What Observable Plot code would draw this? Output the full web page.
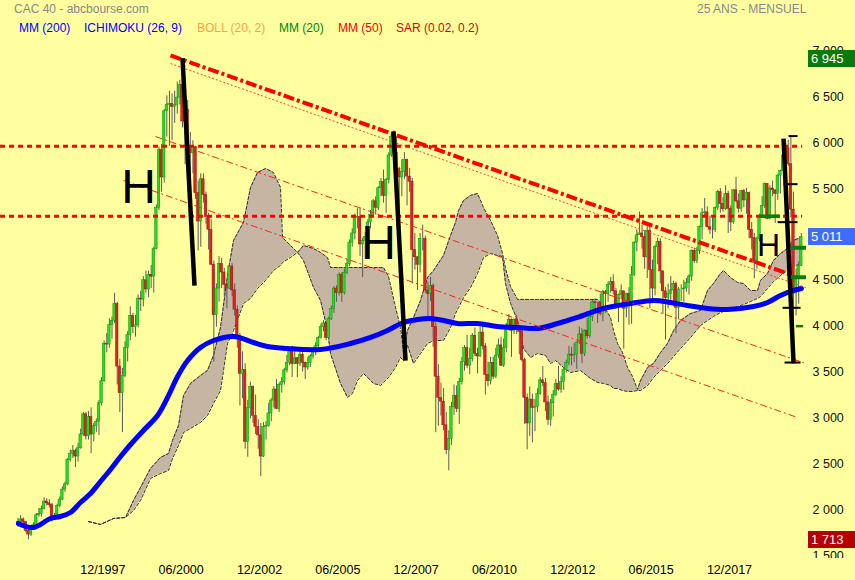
<!DOCTYPE html>
<html><head><meta charset="utf-8">
<script src="https://cdn.jsdelivr.net/npm/d3@7"></script>
<script src="https://cdn.jsdelivr.net/npm/@observablehq/plot@0.6"></script>
<style>
html,body{margin:0;padding:0;background:#ffffa0;}
#wrap{position:relative;width:855px;height:580px;overflow:hidden;background:#ffffa0;font-family:'Liberation Sans',Arial,sans-serif;}
#chart{position:absolute;left:0;top:0;}
.t{position:absolute;font-size:12px;line-height:14px;white-space:nowrap;}
.box{position:absolute;left:808px;width:47px;height:17px;line-height:17px;color:#fff;font-size:13px;padding-left:3px;box-sizing:border-box;}
.cover{position:absolute;background:#ffffa0;}
</style></head>
<body>
<div id="wrap">
  <div id="chart"></div>
  <div class="t" style="left:14px;top:2px;color:#888">CAC 40 - abcbourse.com</div>
  <div class="t" style="left:697px;top:2px;color:#888">25 ANS - MENSUEL</div>
</div>
<script>
// ---------- DATA ----------
const firstMonth = 1995 + 5/12;   // June 1995, one candle per month
const firstOpen = 1880;
const closes = [
1910,1935,1905,1810,1770,1845,1872,
1980,1995,2050,2130,2110,2090,1960,1975,2080,2150,2260,2316,
2580,2650,2680,2620,2710,2860,3080,2840,3050,2860,2950,2999,
3200,3440,3850,3840,4050,4100,4280,3600,3310,3500,3800,3943,
4150,4030,4050,4340,4330,4540,4440,4600,4580,4880,5330,5958,
5660,6380,6450,6460,6430,6450,6530,6670,6270,6400,6000,5926,
5990,5490,5180,5640,5470,5230,5090,4710,4160,4450,4720,4625,
4490,4450,4690,4430,4220,3900,3520,3560,2780,3150,3380,3064,
2940,2850,2620,2940,2950,3090,3230,3350,3140,3400,3430,3558,
3640,3770,3630,3690,3630,3730,3640,3590,3640,3710,3760,3821,
3910,4030,4070,3910,4120,4230,4450,4400,4600,4400,4620,4715,
4950,5050,5220,5230,4930,4970,5010,5170,5250,5400,5330,5542,
5610,5460,5630,5900,6100,5930,5750,5660,5720,5850,5670,5614,
4870,4790,4710,4990,4990,4430,4390,4480,4030,3490,3260,3218,
2960,2690,2810,3160,3280,3140,3430,3650,3800,3610,3680,3936,
3740,3710,3970,3820,3510,3440,3640,3490,3720,3830,3610,3805,
4000,4110,3990,4110,4000,3980,3670,3260,2980,3240,3150,3160,
3300,3450,3420,3210,3020,3200,3290,3410,3350,3430,3560,3641,
3730,3720,3730,3860,3950,3740,3990,3930,4140,4300,4290,4296,
4170,4410,4390,4490,4520,4420,4250,4380,4420,4230,4390,4273,
4600,4950,5030,5050,5010,4790,5080,4650,4450,4900,4960,4637,
4420,4350,4390,4430,4500,4240,4440,4440,4450,4510,4580,4862,
4750,4860,5120,5270,5280,5120,5090,5090,5330,5500,5370,5313,
5480,5320,5170,5520,5400,5320,5510,5410,5490,5090,5000,4731,
4990,5240,5350,5590,5210,5540,5520,5480,5680,5730,5900,5978,
5806,5310,4396,4572,4695,5011];
const highs = [
1945,1975,1950,1915,1830,1860,1900,
2000,2050,2080,2170,2160,2150,2110,2000,2100,2180,2290,2340,
2600,2690,2740,2700,2760,2920,3100,3100,3110,3150,2980,3030,
3230,3480,3880,3960,4120,4140,4400,4300,3680,3580,3870,3980,
4250,4180,4160,4380,4420,4580,4640,4640,4700,4900,5360,5990,
6020,6400,6550,6600,6570,6600,6700,6720,6945,6450,6500,6150,
6060,6000,5620,5700,5700,5500,5270,5200,4750,4500,4800,4780,
4670,4500,4720,4720,4500,4260,3960,3760,3630,3230,3430,3390,
3290,3020,2980,2990,3000,3200,3250,3380,3460,3420,3480,3580,
3720,3790,3820,3800,3700,3760,3750,3650,3700,3730,3800,3860,
3930,4060,4100,4080,4140,4260,4470,4480,4620,4620,4660,4770,
4980,5100,5260,5320,5330,5000,5060,5200,5300,5420,5450,5560,
5650,5740,5650,5930,6130,6168,6100,5770,5850,5930,5860,5760,
5650,5050,4800,5050,5140,5020,4520,4570,4500,4100,3620,3420,
3360,3100,2900,3210,3400,3390,3470,3700,3830,3940,3800,3960,
4020,3800,4030,4080,3850,3650,3700,3700,3800,3900,3920,3900,
4070,4170,4120,4120,4160,4050,4030,3690,3300,3380,3300,3240,
3360,3480,3600,3470,3280,3240,3340,3460,3600,3490,3580,3670,
3820,3810,3850,3870,4030,4010,4000,4120,4170,4320,4340,4300,
4390,4430,4430,4520,4570,4600,4450,4390,4490,4420,4400,4460,
4690,4960,5090,5283,5140,5080,5130,5140,4760,4920,5000,4990,
4640,4460,4500,4580,4530,4520,4460,4490,4540,4560,4600,4870,
4890,4900,5130,5320,5430,5340,5240,5220,5340,5520,5540,5440,
5570,5510,5350,5530,5660,5480,5520,5530,5540,5500,5170,5050,
5010,5260,5450,5600,5590,5570,5620,5520,5690,5740,5940,6040,
6065,6111,5500,4660,4740,5050];
const lows = [
1850,1895,1880,1790,1713,1750,1830,
1860,1960,1960,2040,2080,2060,1910,1930,1960,2060,2140,2230,
2300,2560,2600,2500,2560,2700,2840,2800,2800,2650,2780,2880,
2850,3170,3430,3750,3800,3900,4070,3400,3100,2880,3480,3650,
3880,3960,3920,4020,4200,4250,4400,4350,4450,4400,4870,5300,
5500,5600,6100,6000,6060,6250,6350,6450,6200,5800,5900,5650,
5700,5420,4860,4900,5380,5150,4870,4700,3650,4030,4300,4450,
4350,4230,4440,4360,4150,3800,3170,3250,2700,2612,3030,2980,
2860,2700,2401,2610,2800,2940,3000,3150,3130,3100,3310,3400,
3530,3610,3480,3620,3480,3600,3540,3460,3560,3590,3680,3720,
3800,3900,3980,3880,3890,4100,4180,4300,4370,4300,4380,4600,
4690,4900,4980,5100,4800,4570,4770,4960,5100,5220,5250,5300,
5450,5380,5270,5590,5880,5860,5640,5230,5450,5640,5350,5500,
4500,4650,4430,4620,4860,4400,4130,4310,3810,2880,2950,3060,
2900,2640,2465,2740,3070,3100,2970,3400,3550,3580,3510,3650,
3710,3520,3700,3780,3290,3380,3400,3460,3470,3690,3600,3590,
3750,3990,3700,3950,3950,3730,3650,2970,2693,2840,2770,2890,
3100,3290,3380,3110,2960,2950,3050,3270,3330,3310,3340,3530,
3610,3610,3640,3570,3840,3630,3710,3900,3910,4090,4230,4070,
4150,4090,4180,4300,4400,4380,4220,4080,4330,3790,4130,4050,
4060,4580,4850,5030,4880,4660,4560,4230,4290,4370,4710,4500,
4170,3890,4230,4270,4250,3960,4110,4310,4300,4410,4380,4530,
4720,4720,4820,4980,5240,5110,5040,4990,5060,5300,5270,5280,
5300,5050,5070,5150,5380,5270,5280,5330,5260,4990,4870,4556,
4660,4960,5230,5320,5200,5200,5450,5160,5410,5480,5730,5830,
5780,5220,3632,4150,4280,4690];

// MM (200) (decimal year, value)
const mmYears  = [1995.43,1995.91,1996.45,1996.77,1997.09,1997.41,1997.73,1998.05,1998.37,1998.69,1999.01,1999.42,1999.87,2000.19,2000.51,2000.83,2001.24,2001.66,2002.30,2002.93,2003.38,2004.02,2005.07,2006.03,2006.67,2007.21,2007.72,2008.17,2008.58,2009.00,2009.44,2010.08,2010.72,2011.36,2012.00,2012.64,2013.27,2014.10,2014.97,2015.70,2016.24,2016.78,2017.42,2018.06,2018.89,2019.34,2019.75,2020.17,2020.42];
const mmValues = [1891,1847,1945,1967,2010,2119,2217,2348,2479,2620,2751,2904,3067,3263,3492,3666,3808,3884,3928,3862,3819,3797,3786,3851,3917,3993,4080,4113,4124,4102,4069,4069,4037,4026,4015,4069,4135,4233,4287,4320,4298,4265,4233,4222,4254,4298,4374,4429,4451];

// Ichimoku cloud (upper / lower edge)
const cloudYears = [1997.667,1998.05,1998.465,1998.848,1999.103,1999.327,1999.646,1999.965,2000.22,2000.348,2000.54,2000.70,2000.923,2001.242,2001.465,2001.656,2001.88,2002.103,2002.295,2002.614,2002.838,2003.061,2003.317,2003.572,2003.795,2003.859,2004.114,2004.338,2004.529,2004.849,2005.072,2005.296,2005.391,2005.71,2005.934,2006.093,2006.253,2006.444,2006.763,2006.987,2007.082,2007.242,2007.466,2007.625,2007.721,2007.849,2008.04,2008.264,2008.487,2008.679,2008.998,2009.222,2009.381,2009.477,2009.637,2009.86,2010.083,2010.275,2010.498,2010.722,2010.881,2010.977,2011.137,2011.36,2011.552,2011.775,2011.998,2012.253,2012.413,2012.572,2012.828,2013.051,2013.37,2013.689,2013.913,2014.104,2014.328,2014.424,2014.551,2014.711,2014.871,2015.03,2015.19,2015.286,2015.51,2015.701,2015.925,2016.148,2016.34,2016.563,2016.882,2017.201,2017.424,2017.616,2017.839,2017.935,2018.158,2018.382,2018.573,2018.796,2019.02,2019.115,2019.339,2019.53,2019.754,2019.977,2020.169,2020.392];
const cloudTop = [1912,1880,1945,1956,2141,2283,2490,2610,2653,2795,2958,3285,3416,3503,3557,3721,4026,4592,4973,5170,5551,5714,5758,5714,5551,5006,4919,4843,4919,4886,4843,4788,4679,4679,4679,4679,4679,4679,4679,4679,4679,4581,4243,4026,3753,3993,4135,4320,4570,4647,4810,5028,5170,5300,5409,5464,5485,5333,5191,5028,4832,4668,4472,4331,4331,4331,4331,4331,4331,4331,4331,4331,4331,4331,4331,4265,4135,3993,3851,3753,3590,3492,3350,3448,3590,3634,3753,3851,3993,4102,4178,4211,4429,4505,4614,4647,4570,4516,4505,4429,4429,4538,4614,4756,4832,4886,4973,5006];
const cloudBottom = [1912,1880,1945,1956,2032,2141,2381,2435,2468,2599,2740,2882,2926,2991,3067,3198,3339,3851,3993,4287,4342,4450,4538,4647,4701,4734,4788,4843,4755,4461,4320,3993,3742,3416,3263,3307,3448,3525,3416,3394,3427,3481,3590,3699,3666,3830,3634,3742,3851,3884,3884,4026,4178,4243,4352,4461,4614,4788,4832,4810,4799,4505,4287,4102,3797,3699,3742,3721,3634,3666,3590,3535,3557,3470,3427,3416,3394,3361,3361,3339,3329,3329,3339,3339,3394,3481,3557,3634,3710,3797,3917,4048,4102,4146,4189,4200,4233,4254,4276,4309,4342,4363,4450,4527,4592,4647,4690,4723];

// Horizontal resistance levels and drawn lines (decimal year, value)
const levels = [6000, 5238];
const levelSpan = [1994.86, 2020.46];
const thickTrend = [{x1:2000.284,y1:6989,x2:2020.073,y2:4603}];
const dottedTrend = [{x1:2000.284,y1:6901,x2:2020.552,y2:4461}];
const dashDotTrends = [{x1:1999.805,y1:6106,x2:2020.552,y2:3634},{x1:1998.784,y1:5627,x2:2020.297,y2:3045}];
const blackLines = [{x1:2000.667,y1:6960,x2:2001.05,y2:4483},{x1:2007.402,y1:6161,x2:2007.785,y2:3666},{x1:2019.85,y1:6084,x2:2020.169,y2:3634}];
const blackTicks = [{v:6111,a:2020.025,b:2020.312},{v:5587,a:2019.866,b:2020.312},{v:5173,a:2019.674,b:2020.312},{v:4240,a:2019.834,b:2020.408},{v:3644,a:2019.898,b:2020.408}];
const greenMarks = [{v:5238,a:2019.116,b:2019.754,w:3.5},{v:4894,a:2020.10,b:2020.583,w:4},{v:4573,a:2020.10,b:2020.583,w:4},{v:4040,a:2020.26,b:2020.49,w:2.5}];
const hLabels = [{t:1999.263,v:5544,size:48},{t:2006.923,v:4934,size:48},{t:2019.371,v:4921,size:32}];

// 5 000 is hidden under the last-price box in the original, so it is not listed
const yTicks = [1500,2000,2500,3000,3500,4000,4500,5500,6000,6500,7000];
const xTickLabels = ["12/1997","06/2000","12/2002","06/2005","12/2007","06/2010","12/2012","06/2015","12/2017"];
const valueBoxes = [{v:6945,color:"#0a7a0a"},{v:5011,color:"#3f6cff"},{v:1713,color:"#b40000"}];
const legendItems = [
  {text:"MM (200)",color:"#0000ff",left:19},
  {text:"ICHIMOKU (26, 9)",color:"#0000ff",left:84},
  {text:"BOLL (20, 2)",color:"#ffa040",left:197},
  {text:"MM (20)",color:"#008800",left:279},
  {text:"MM (50)",color:"#ff0000",left:338},
  {text:"SAR (0.02, 0.2)",color:"#e00000",left:396}
];

// ---------- TABLES ----------
const candles = closes.map((c, i) => ({
  t: firstMonth + i/12,
  open: i ? closes[i-1] : firstOpen,
  close: c, high: highs[i], low: lows[i]
}));
const mm = mmYears.map((t, i) => ({t, v: mmValues[i]}));
const cloud = cloudYears.map((t, i) => ({t, top: cloudTop[i], bottom: cloudBottom[i]}));
const tickYears = xTickLabels.map(s => { const [m, y] = s.split("/"); return +y + (m - 1)/12; });
const tickLabelOf = new Map(tickYears.map((t, i) => [t, xTickLabels[i]]));
const fmt = d => d3.format(",")(d).replace(/,/g, " ");
const half = 0.04;

const chart = Plot.plot({
  width: 855, height: 580,
  marginTop: 44, marginBottom: 20, marginLeft: 0, marginRight: 50,
  style: {background: "transparent", fontFamily: "'Liberation Sans', Arial, sans-serif", fontSize: "12.5px", color: "#000", overflow: "visible"},
  x: {type: "linear", domain: [firstMonth, firstMonth + 25], range: [17.5, 800.8]},
  y: {type: "linear", domain: [1500, 7000], range: [558.85, 53.95]},
  marks: [
    Plot.areaY(cloud, {x: "t", y1: "bottom", y2: "top", fill: "#c6b5a2"}),
    Plot.line(cloud, {x: "t", y: "top", stroke: "#2e2a3a", strokeWidth: 1, strokeDasharray: "3,2"}),
    Plot.line(cloud, {x: "t", y: "bottom", stroke: "#2e2a3a", strokeWidth: 1, strokeDasharray: "3,2"}),
    Plot.ruleX(candles, {x: "t", y1: "low", y2: "high", stroke: "#5a5a5a", strokeWidth: 1}),
    Plot.rect(candles, {x1: d => d.t - half, x2: d => d.t + half, y1: "open", y2: "close",
      fill: d => d.close >= d.open ? "#22dd22" : "#dd2222",
      stroke: d => d.close >= d.open ? "#119011" : "#a01010", strokeWidth: 0.5}),
    Plot.line(mm, {x: "t", y: "v", stroke: "#0000ff", strokeWidth: 5, curve: "catmull-rom"}),
    Plot.ruleY(levels, {y: d => d, x1: levelSpan[0], x2: levelSpan[1], stroke: "#ff0000", strokeWidth: 3, strokeDasharray: "5,4"}),
    Plot.link(dottedTrend, {x1: "x1", y1: "y1", x2: "x2", y2: "y2", stroke: "#ff3b3b", strokeWidth: 1, strokeDasharray: "2,2"}),
    Plot.link(dashDotTrends, {x1: "x1", y1: "y1", x2: "x2", y2: "y2", stroke: "#ff2020", strokeWidth: 1, strokeDasharray: "7,3,2,3"}),
    Plot.link(thickTrend, {x1: "x1", y1: "y1", x2: "x2", y2: "y2", stroke: "#ff0000", strokeWidth: 4, strokeDasharray: "11,3,3,3"}),
    Plot.link(blackLines, {x1: "x1", y1: "y1", x2: "x2", y2: "y2", stroke: "#000", strokeWidth: 4.5}),
    Plot.ruleY(blackTicks, {y: "v", x1: "a", x2: "b", stroke: "#000", strokeWidth: 2}),
    Plot.ruleY(greenMarks, {y: "v", x1: "a", x2: "b", stroke: "#0a7d0a", strokeWidth: d => d.w}),
    Plot.text(hLabels, {x: "t", y: "v", text: () => "H", fontSize: d => d.size, fill: "#000", textAnchor: "middle"}),
    Plot.axisY(yTicks, {anchor: "right", tickSize: 0, tickPadding: 7, tickFormat: fmt, dy: -3.6, fill: "#111", label: null}),
    Plot.axisX(tickYears, {anchor: "bottom", tickSize: 0, tickPadding: 5, tickFormat: d => tickLabelOf.get(d), dx: 6.5, fill: "#000", label: null})
  ]
});
document.getElementById("chart").appendChild(chart);

const wrap = document.getElementById("wrap");
// mask the axis labels that the original clips at the plot edge
[[805, 30, 50, 16], [805, 557.7, 50, 5]].forEach(([l, t, w, h]) => {
  const d = document.createElement("div");
  d.className = "cover";
  Object.assign(d.style, {left: l + "px", top: t + "px", width: w + "px", height: h + "px"});
  wrap.appendChild(d);
});
// value boxes on the right axis, placed with the chart's y scale
const yScale = chart.scale("y");
valueBoxes.forEach(b => {
  const d = document.createElement("div");
  d.className = "box";
  d.style.background = b.color;
  d.style.top = (yScale.apply(b.v) - 8.5) + "px";
  d.textContent = fmt(b.v);
  wrap.appendChild(d);
});
// legend row
legendItems.forEach(it => {
  const d = document.createElement("div");
  d.className = "t";
  Object.assign(d.style, {left: it.left + "px", top: "20.6px", color: it.color});
  d.textContent = it.text;
  wrap.appendChild(d);
});
</script>
</body></html>
